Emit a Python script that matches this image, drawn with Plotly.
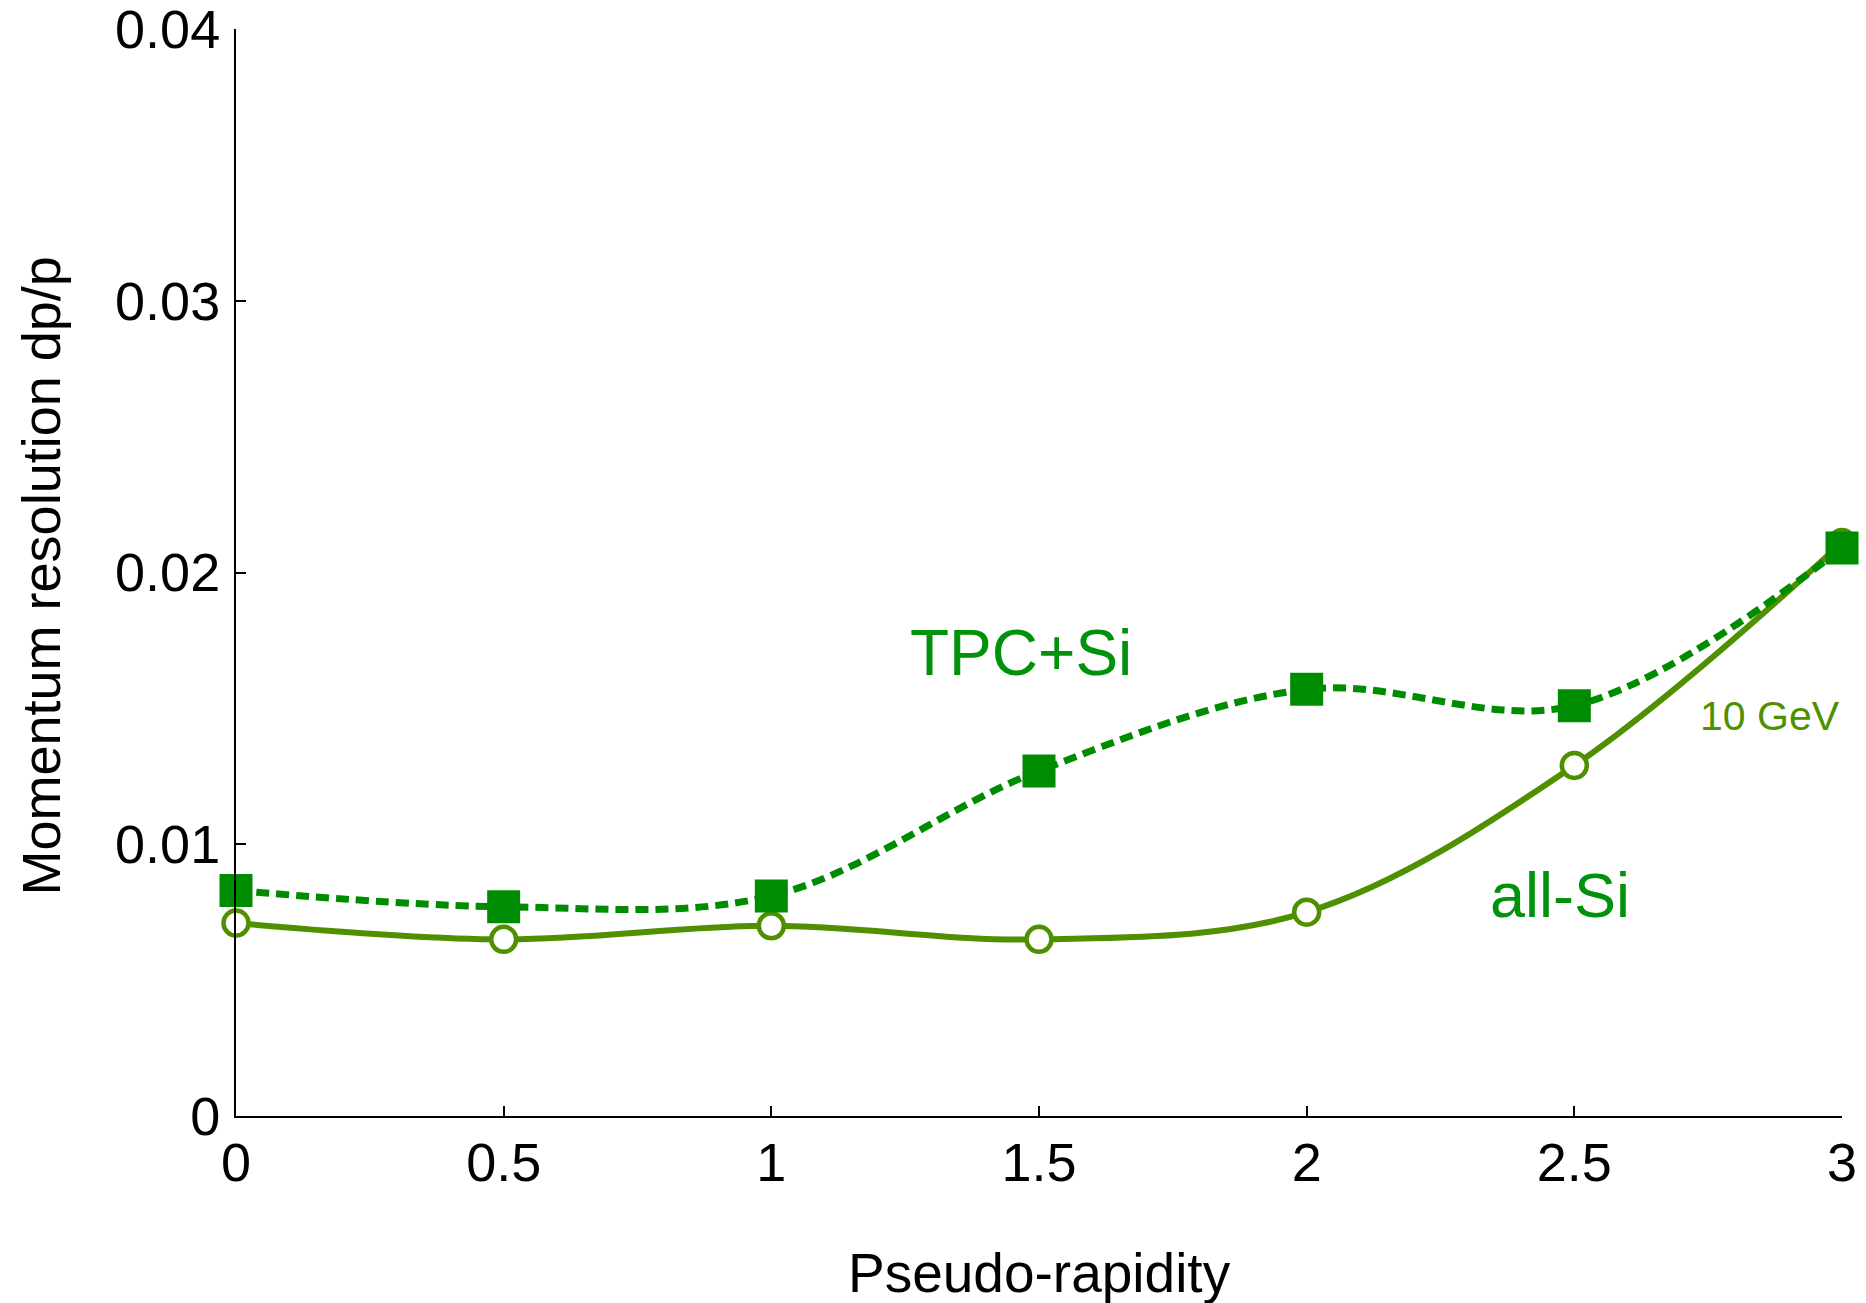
import plotly.graph_objects as go

# Pseudo-rapidity points
eta = [0, 0.5, 1, 1.5, 2, 2.5, 3]

# Momentum resolution dp/p at 10 GeV
tpc_si = [0.0083, 0.0077, 0.0081, 0.0127, 0.0157, 0.0151, 0.0209]
all_si = [0.0071, 0.0065, 0.0070, 0.0065, 0.0075, 0.0129, 0.0211]

x_tickvals = [0, 0.5, 1, 1.5, 2, 2.5, 3]
x_ticktext = ["0", "0.5", "1", "1.5", "2", "2.5", "3"]
y_tickvals = [0, 0.01, 0.02, 0.03, 0.04]
y_ticktext = ["0", "0.01", "0.02", "0.03", "0.04"]

FONT = "Liberation Sans, Arial, Helvetica, sans-serif"
GREEN = "#008c00"
OLIVE = "#4f9000"
LABEL_GREEN = "#00920a"

fig = go.Figure()

fig.add_trace(go.Scatter(
    x=eta, y=all_si, name="all-Si",
    mode="lines+markers",
    line=dict(color=OLIVE, width=6, shape="spline", smoothing=1.0),
    marker=dict(symbol="circle", size=25, color="white",
                line=dict(color=OLIVE, width=4.5)),
    cliponaxis=False,
))

fig.add_trace(go.Scatter(
    x=eta, y=tpc_si, name="TPC+Si",
    mode="lines+markers",
    line=dict(color=GREEN, width=7, dash="13px,7px", shape="spline", smoothing=1.0),
    marker=dict(symbol="square", size=33, color=GREEN, line=dict(width=0)),
    cliponaxis=False,
))

axis_common = dict(
    showgrid=False, zeroline=False,
    showline=True, linecolor="black", linewidth=2,
    ticks="inside", ticklen=10, tickwidth=2, tickcolor="black",
    tickfont=dict(family=FONT, size=54, color="black"),
    ticklabeloverflow="allow",
    automargin=False,
    fixedrange=True,
)

fig.update_xaxes(range=[0, 3.0000001], tickvals=x_tickvals, ticktext=x_ticktext,
                 ticklabelstandoff=-2, **axis_common)
fig.update_yaxes(range=[0, 0.0400001], tickvals=y_tickvals, ticktext=y_ticktext,
                 ticklabelstandoff=3, **axis_common)

annotations = [
    # axis titles
    dict(text="Momentum resolution dp/p", xref="paper", yref="paper",
         x=0, y=0.5, xanchor="center", yanchor="middle", xshift=-196, yshift=-4,
         textangle=-90, showarrow=False,
         font=dict(family=FONT, size=54, color="black")),
    dict(text="Pseudo-rapidity", xref="paper", yref="paper",
         x=0.5, y=0, xanchor="center", yanchor="middle", yshift=-157,
         showarrow=False, font=dict(family=FONT, size=55, color="black")),
    # curve labels
    dict(text="TPC+Si", xref="x", yref="y", x=1.467, y=0.01705,
         xanchor="center", yanchor="middle", showarrow=False,
         font=dict(family=FONT, size=64, color=LABEL_GREEN)),
    dict(text="all-Si", xref="x", yref="y", x=2.473, y=0.00813,
         xanchor="center", yanchor="middle", showarrow=False,
         font=dict(family=FONT, size=63, color=LABEL_GREEN)),
    dict(text="10 GeV", xref="x", yref="y", x=2.865, y=0.01472,
         xanchor="center", yanchor="middle", showarrow=False,
         font=dict(family=FONT, size=41, color=OLIVE)),
]

fig.update_layout(
    width=1866, height=1303, autosize=False,
    margin=dict(l=236, r=24, t=29, b=187, pad=0, autoexpand=False),
    paper_bgcolor="white", plot_bgcolor="white",
    showlegend=False,
    annotations=annotations,
)

fig.write_html("out.html", config={"displayModeBar": False})
